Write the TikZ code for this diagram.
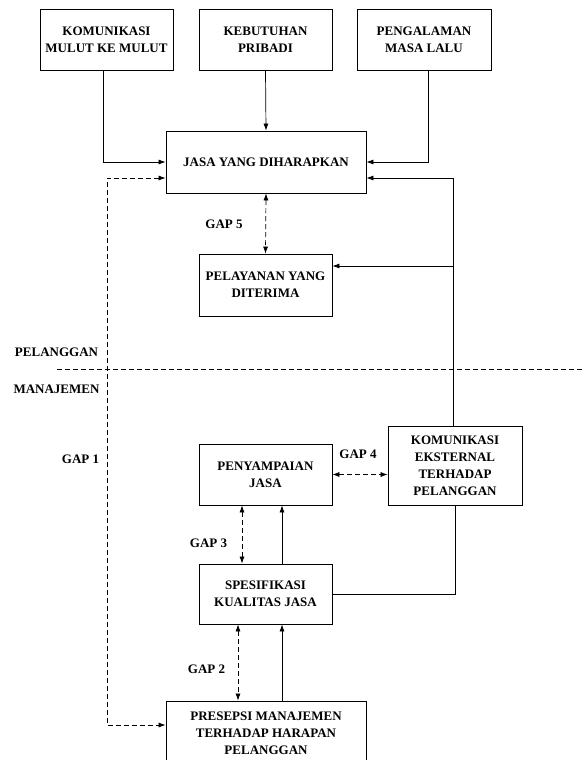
\documentclass[tikz,border=0pt]{standalone}
\usepackage{fontspec}
\setmainfont{Liberation Serif}
\usetikzlibrary{arrows.meta}
\begin{document}
\begin{tikzpicture}[x=1pt,y=-1pt,
  box/.style={draw, line width=0.8pt, align=center, inner sep=0pt, font=\fontsize{13}{17}\selectfont\bfseries},
  lbl/.style={inner sep=0pt, font=\fontsize{13}{15}\selectfont\bfseries},
  ln/.style={line width=0.7pt},
  arr/.style={ln, -{Latex[length=7pt,width=5pt]}},
  dsh/.style={ln, dash pattern=on 5pt off 3pt},
  darr/.style={dsh, {Latex[length=7pt,width=5pt]}-{Latex[length=7pt,width=5pt]}}]
\useasboundingbox (0,0) rectangle (584,760);
\node[box, minimum width=133pt, minimum height=61pt] (b1) at (106.5,39.5) {KOMUNIKASI\\MULUT KE MULUT};
\node[box, minimum width=133pt, minimum height=61pt] (b2) at (265.5,39.5) {KEBUTUHAN\\PRIBADI};
\node[box, minimum width=134pt, minimum height=61pt] (b3) at (424,39.5) {PENGALAMAN\\MASA LALU};
\node[box, minimum width=200pt, minimum height=62pt] (jasa) at (266,162) {JASA YANG DIHARAPKAN};
\node[box, minimum width=133pt, minimum height=62pt] (pel) at (265.5,285) {PELAYANAN YANG\\DITERIMA};
\node[box, minimum width=134pt, minimum height=79pt] (kom) at (455,465.5) {KOMUNIKASI\\EKSTERNAL\\TERHADAP\\PELANGGAN};
\node[box, minimum width=133pt, minimum height=61pt] (pen) at (265.5,474.5) {PENYAMPAIAN\\JASA};
\node[box, minimum width=133pt, minimum height=60pt] (spe) at (265.5,594) {SPESIFIKASI\\KUALITAS JASA};
\node[box, minimum width=200pt, minimum height=64pt] (pre) at (266,733) {PRESEPSI MANAJEMEN\\TERHADAP HARAPAN\\PELANGGAN};

\node[lbl] (g5) at (224,224) {GAP 5};
\node[lbl] (g4) at (358,454) {GAP 4};
\node[lbl] (g3) at (208.5,543) {GAP 3};
\node[lbl] (g2) at (206.5,669) {GAP 2};
\node[lbl] (g1) at (80.5,459) {GAP 1};
\node[lbl] (plg) at (56.5,352) {PELANGGAN};
\node[lbl] (man) at (56.5,389) {MANAJEMEN};

\coordinate (dl) at (57,369);
\coordinate (dr) at (590,369);
\coordinate (ga) at (107,178);
\coordinate (gb) at (107,725);
\coordinate (rb) at (453,266);

\draw[arr] ([xshift=-3.5pt]b1.south) |- (jasa.west);
\draw[arr] (b2.south) -- (jasa.north);
\draw[arr] ([xshift=4pt]b3.south) |- (jasa.east);
\draw[arr] ([xshift=-2pt]kom.north) |- ([yshift=-16pt]jasa.east);
\draw[arr] (rb) -- (rb -| pel.east);
\draw[darr] ([yshift=-16pt]jasa.west) -- (ga) -- (gb) -- ([yshift=8pt]pre.west);
\draw[dsh] (dl) -- (dr);
\draw[darr] (jasa.south) -- (pel.north);
\draw[darr] (pen.east) -- (pen.east -| kom.west);
\draw[darr] ([xshift=-23.5pt]pen.south) -- ([xshift=-23.5pt]spe.north);
\draw[arr] ([xshift=16.5pt]spe.north) -- ([xshift=16.5pt]pen.south);
\draw[ln] (spe.east) -| (kom.south);
\draw[darr] ([xshift=-27.5pt]spe.south) -- ([xshift=-28pt]pre.north);
\draw[arr] ([xshift=16pt]pre.north) -- ([xshift=16.5pt]spe.south);
\end{tikzpicture}
\end{document}
